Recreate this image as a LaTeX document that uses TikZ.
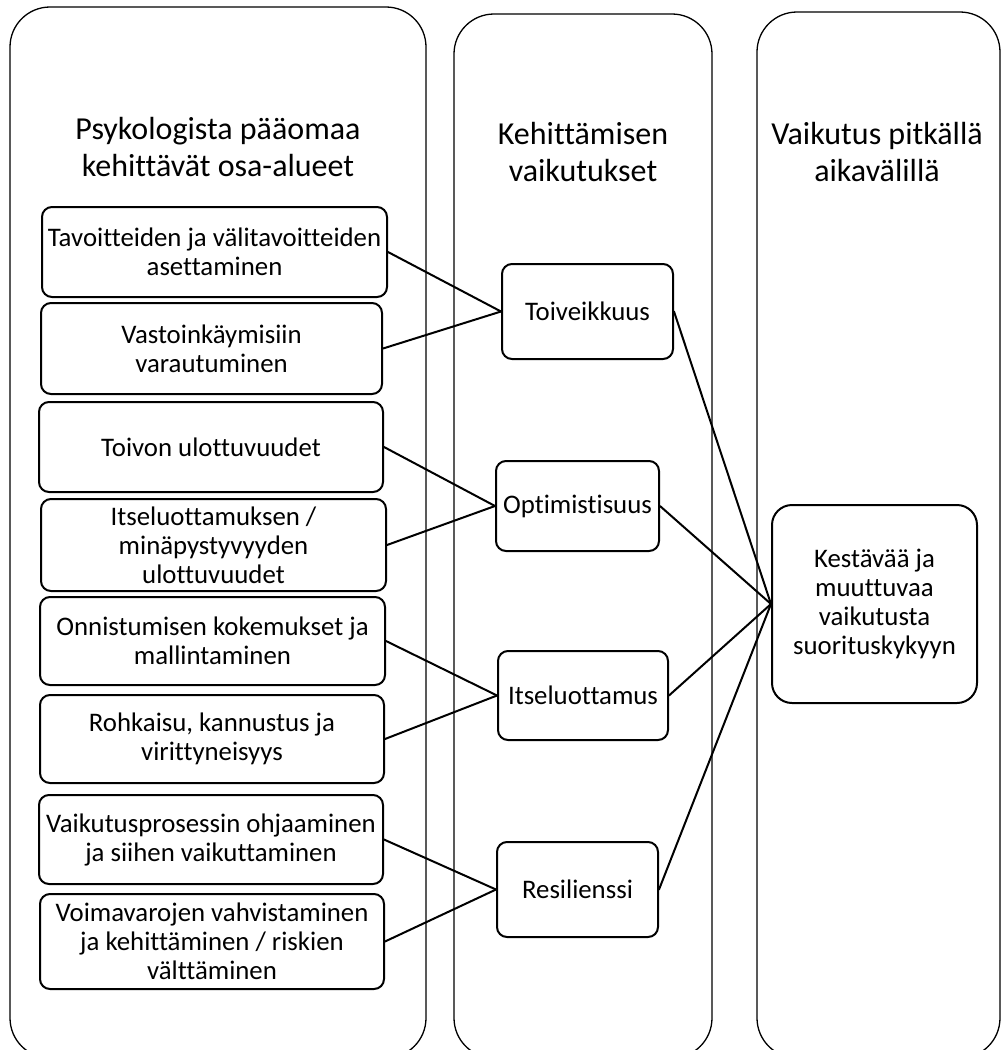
\documentclass[tikz,border=0pt]{standalone}
\usepackage{fontspec}
\setmainfont{Carlito}[Ligatures=NoCommon]
\begin{document}
\begin{tikzpicture}[x=1pt,y=-1pt, line join=round, line cap=round,
  col/.style={draw, line width=1.3pt, rounded corners=40pt},
  ttl/.style={align=center, inner sep=0pt, font=\fontsize{32}{37}\selectfont},
  box/.style={draw, line width=2pt, rounded corners=10pt, align=center, inner sep=0pt, font=\fontsize{26.8}{29}\selectfont},
  lnk/.style={line width=2pt}]
\useasboundingbox (0,0) rectangle (1001,1050);
\fill[white] (0,0) rectangle (1001,1050);
\clip (0,0) rectangle (1001,1050);
% the three columns, cut at the bottom
\draw[col] (10,7) rectangle (426,1058);
\draw[col] (454,14) rectangle (712,1058);
\draw[col] (757,12) rectangle (1000,1058);
\node[ttl] (t1) at (218,147) {Psykologista pääomaa\\kehittävät osa-alueet};
\node[ttl] (t2) at (583,152) {Kehittämisen\\vaikutukset};
\node[ttl] (t3) at (877,152) {Vaikutus pitkällä\\aikavälillä};
% left column
\node[box, minimum width=345pt, minimum height=90pt] (b1) at (214.5,252) {Tavoitteiden ja välitavoitteiden\\asettaminen};
\node[box, minimum width=341pt, minimum height=91pt] (b2) at (211.5,348.5) {Vastoinkäymisiin\\varautuminen};
\node[box, minimum width=344pt, minimum height=90pt] (b3) at (211,447) {Toivon ulottuvuudet};
\node[box, minimum width=345pt, minimum height=92pt] (b4) at (213.5,545) {Itseluottamuksen /\\minäpystyvyyden\\ulottuvuudet};
\node[box, minimum width=345pt, minimum height=88pt] (b5) at (212.5,641) {Onnistumisen kokemukset ja\\mallintaminen};
\node[box, minimum width=344pt, minimum height=88pt] (b6) at (212,739) {Rohkaisu, kannustus ja\\virittyneisyys};
\node[box, minimum width=344pt, minimum height=89pt] (b7) at (211,839.5) {Vaikutusprosessin ohjaaminen\\ja siihen vaikuttaminen};
\node[box, minimum width=344pt, minimum height=95pt] (b8) at (212,941.5) {Voimavarojen vahvistaminen\\ja kehittäminen / riskien\\välttäminen};
% middle column
\node[box, minimum width=171pt, minimum height=95pt] (toiv) at (587.5,311.5) {Toiveikkuus};
\node[box, minimum width=163pt, minimum height=90pt] (opti) at (577.5,506) {Optimistisuus};
\node[box, minimum width=170pt, minimum height=89pt] (itse) at (583,695.5) {Itseluottamus};
\node[box, minimum width=161pt, minimum height=95pt] (resi) at (577.5,889.5) {Resilienssi};
% right column
\node[box, rounded corners=20pt, minimum width=205pt, minimum height=198pt] (kest) at (874.5,604) {Kestävää ja\\muuttuvaa\\vaikutusta\\suorituskykyyn};
\draw[lnk] (b1.east) -- (toiv.west);
\draw[lnk] (b2.east) -- (toiv.west);
\draw[lnk] (b3.east) -- (opti.west);
\draw[lnk] (b4.east) -- (opti.west);
\draw[lnk] (b5.east) -- (itse.west);
\draw[lnk] (b6.east) -- (itse.west);
\draw[lnk] (b7.east) -- (resi.west);
\draw[lnk] (b8.east) -- (resi.west);
\foreach \m in {toiv,opti,itse,resi}
  \draw[lnk] (\m.east) -- (kest.west);
\end{tikzpicture}
\end{document}
